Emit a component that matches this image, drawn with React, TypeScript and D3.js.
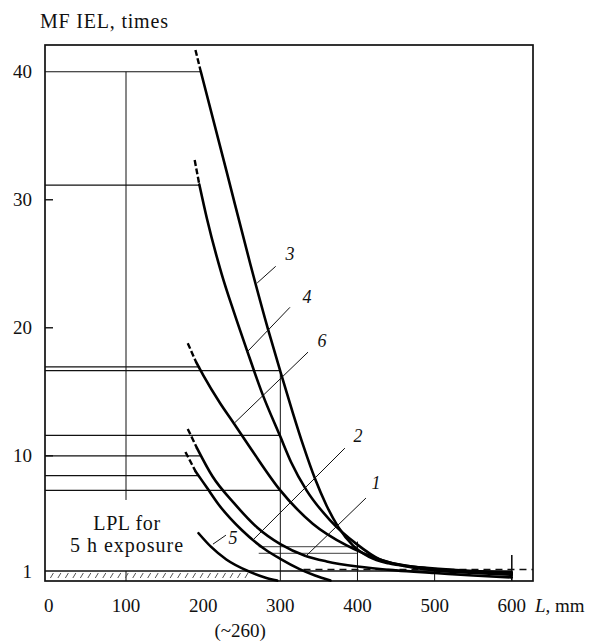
import React from "react";
import * as d3 from "d3";

// ---- axis ticks ----
const xTicks = [0, 100, 200, 300, 400, 500, 600];
const yTicks = [40, 30, 20, 10, 1];
const yInnerTicks = [30, 20, 10];

// ---- curves (L mm, MF IEL times); "Head" = dashed starting segment ----
const curve3Head = [[190, 41.7], [197, 40.0]];
const curve3 = [[197, 40.0], [230, 32.3], [261, 25.0], [284, 19.9], [300, 16.6], [316, 13.4], [330, 10.75], [345, 8.2], [360, 6.1], [375, 4.45], [394, 3.0], [415, 2.1], [440, 1.6], [470, 1.35], [500, 1.2], [550, 1.0], [600, 0.9]];

const curve4Head = [[189, 33.1], [195, 31.2]];
const curve4 = [[195, 31.2], [205, 28.5], [224, 24.2], [240, 21.2], [257, 18.2], [277, 14.8], [300, 11.5], [314, 9.5], [334, 7.3], [364, 5.0], [399, 3.1], [429, 1.9], [460, 1.45], [500, 1.15], [550, 0.95], [600, 0.8]];

const curve6Head = [[180, 18.8], [191, 17.3]];
const curve6 = [[191, 17.3], [200, 16.3], [222, 14.1], [239, 12.6], [263, 10.45], [300, 7.3], [342, 4.7], [386, 3.0], [429, 1.9], [460, 1.4], [500, 1.05], [550, 0.85], [600, 0.7]];

const curve1Head = [[180, 12.1], [192, 10.6]];
const curve1 = [[192, 10.6], [212, 8.4], [240, 6.3], [270, 4.4], [300, 3.1], [332, 2.2], [360, 1.75], [400, 1.35], [450, 1.05], [500, 0.85], [550, 0.65], [600, 0.5]];

const curve2Head = [[177, 10.3], [190, 8.8]];
const curve2 = [[190, 8.8], [205, 7.5], [220, 6.2], [250, 4.2], [280, 2.7], [300, 1.95], [325, 1.15], [345, 0.65], [365, 0.25]];

const curve5 = [[194, 3.95], [210, 2.9], [230, 1.9], [258, 1.0], [280, 0.5], [296, 0.25]];

// ---- reference lines ----
const hLines = [
  { v: 40, x0: -5, x1: 197 },
  { v: 31.15, x0: -5, x1: 195 },
  { v: 16.95, x0: -5, x1: 196 },
  { v: 16.65, x0: -5, x1: 300 },
  { v: 11.6, x0: -5, x1: 300 },
  { v: 10.0, x0: -5, x1: 196 },
  { v: 8.45, x0: -5, x1: 194 },
  { v: 7.3, x0: -5, x1: 300 },
];
const hLinesGray = [
  { v: 2.9, x0: 272, x1: 400 },
  { v: 2.38, x0: 272, x1: 400 },
];
const vLines = [
  { x: 100, v0: 40, v1: 6.55 },
  { x: 100, v0: 1, v1: 0.22 },
  { x: 300, v0: 16.65, v1: 0.22 },
  { x: 400, v0: 3.3, v1: 0.22 },
  { x: 500, v0: 1.23, v1: 0.22 },
];
const v600 = { x: 600, v0: 2.25, v1: 0.22 };

// ---- curve labels and leaders ----
const curveLabels = [
  { t: "3", x: 312.5, v: 25.8, lead: [[270, 23.5], [294, 24.8]] },
  { t: "4", x: 334.5, v: 22.4, lead: [[256.8, 18.1], [312.5, 21.6]] },
  { t: "6", x: 354, v: 19.0, lead: [[241.2, 12.6], [335.9, 18.1]] },
  { t: "2", x: 400.6, v: 11.6, lead: [[265.8, 3.5], [383.7, 10.6]] },
  { t: "1", x: 424, v: 7.9, lead: [[332, 2.1], [411, 6.7]] },
  { t: "5", x: 238.6, v: 3.58, lead: [[212.7, 3.1], [229.5, 3.8]] },
];

const W = 603, H = 641;
const FONT = '"Liberation Serif", "Times New Roman", "DejaVu Serif", serif';

export default function App() {
  const x = d3.scaleLinear().domain([-5, 627.5]).range([45, 533]);
  const y = d3.scaleLinear().domain([0.22, 42.09]).range([581, 45]);
  const line = d3
    .line<number[]>()
    .x((d) => x(d[0]))
    .y((d) => y(d[1]))
    .curve(d3.curveMonotoneX);
  const straight = d3
    .line<number[]>()
    .x((d) => x(d[0]))
    .y((d) => y(d[1]));

  const solids = [curve3, curve4, curve6, curve1, curve2, curve5];
  const heads = [curve3Head, curve4Head, curve6Head, curve1Head, curve2Head];

  const hatchX = d3.range(2, 255, 9.7);
  const ts = { fontFamily: FONT };

  return (
    <svg
      width={W}
      height={H}
      style={{ position: "absolute", left: 0, top: 0, background: "#fff", fontFamily: FONT }}
    >
      <rect width={W} height={H} fill="#fff" />
      {/* y title */}
      <text x={40} y={28} fontSize={20} letterSpacing={0.8} fill="#111" style={ts}>
        MF IEL, times
      </text>

      {/* frame */}
      <rect
        x={x(-5)}
        y={y(42.09)}
        width={x(627.5) - x(-5)}
        height={y(0.22) - y(42.09)}
        fill="none"
        stroke="#111"
        strokeWidth={1.7}
      />

      {/* y ticks */}
      {yInnerTicks.map((t) => (
        <line key={"yt" + t} x1={x(-5)} x2={x(-5) + 8} y1={y(t)} y2={y(t)} stroke="#111" strokeWidth={1.4} />
      ))}
      {yTicks.map((t) => (
        <text key={"yl" + t} x={32} y={y(t)} dy="0.35em" textAnchor="end" fontSize={19} fill="#111" style={ts}>
          {t}
        </text>
      ))}
      {/* x labels */}
      {xTicks.map((t) => (
        <text key={"xl" + t} x={x(t)} y={612} textAnchor="middle" fontSize={19} fill="#111" style={ts}>
          {t}
        </text>
      ))}
      <text x={535} y={612} fontSize={19} fill="#111" style={ts}>
        <tspan fontStyle="italic">L</tspan>, mm
      </text>
      <text x={x(248)} y={637} textAnchor="middle" fontSize={19} fill="#111" style={ts}>
        (~260)
      </text>

      {/* reference lines */}
      {hLines.map((l, i) => (
        <line key={"h" + i} x1={x(l.x0)} x2={x(l.x1)} y1={y(l.v)} y2={y(l.v)} stroke="#111" strokeWidth={1.2} />
      ))}
      {hLinesGray.map((l, i) => (
        <line key={"hg" + i} x1={x(l.x0)} x2={x(l.x1)} y1={y(l.v)} y2={y(l.v)} stroke="#666" strokeWidth={1.2} />
      ))}
      {vLines.map((l, i) => (
        <line key={"v" + i} x1={x(l.x)} x2={x(l.x)} y1={y(l.v0)} y2={y(l.v1)} stroke="#111" strokeWidth={1} />
      ))}
      <line x1={x(v600.x)} x2={x(v600.x)} y1={y(v600.v0)} y2={y(v600.v1)} stroke="#111" strokeWidth={1.6} />

      {/* LPL line with hatching */}
      <line x1={x(-5)} x2={x(600)} y1={y(1)} y2={y(1)} stroke="#111" strokeWidth={1.5} />
      {hatchX.map((h, i) => (
        <line key={"ht" + i} x1={x(h)} x2={x(h) + 3} y1={y(1) + 7} y2={y(1) + 2} stroke="#555" strokeWidth={1} />
      ))}
      <line x1={x(330)} x2={x(627.5)} y1={y(1.12)} y2={y(1.12)} stroke="#111" strokeWidth={1.4} strokeDasharray="7,5" />

      {/* curves */}
      {solids.map((c, i) => (
        <path key={"c" + i} d={line(c) || ""} fill="none" stroke="#000" strokeWidth={2.6} strokeLinecap="round" />
      ))}
      {heads.map((c, i) => (
        <path key={"hd" + i} d={straight(c) || ""} fill="none" stroke="#000" strokeWidth={2.4} strokeDasharray="6,2.5" />
      ))}

      {/* curve labels */}
      {curveLabels.map((l) => (
        <g key={"lab" + l.t}>
          <path d={straight(l.lead) || ""} stroke="#111" strokeWidth={1} fill="none" />
          <text x={x(l.x)} y={y(l.v)} dy="0.35em" textAnchor="middle" fontSize={18} fontStyle="italic" fill="#111" style={ts}>
            {l.t}
          </text>
        </g>
      ))}

      {/* LPL annotation */}
      <text x={127} y={530} textAnchor="middle" fontSize={20} letterSpacing={0.6} fill="#111" style={ts}>
        LPL for
      </text>
      <text x={127} y={552} textAnchor="middle" fontSize={20} letterSpacing={1} fill="#111" style={ts}>
        5 h exposure
      </text>
    </svg>
  );
}
